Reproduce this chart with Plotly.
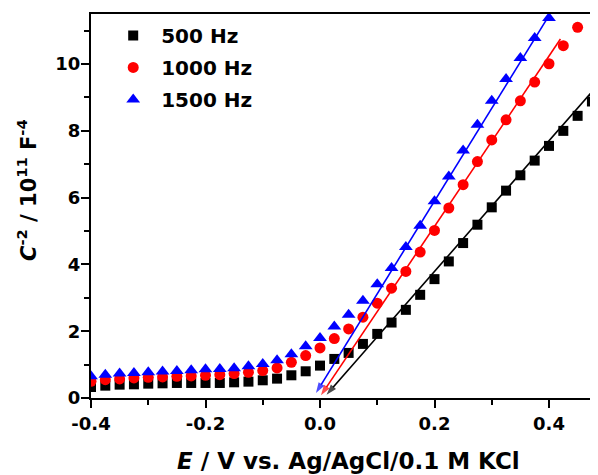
import plotly.graph_objects as go

# ---- data ----
x_black = [-0.4, -0.375, -0.35, -0.325, -0.3, -0.275, -0.25, -0.225, -0.2,
           -0.175, -0.15, -0.125, -0.1, -0.075, -0.05, -0.025, 0.0,
           0.025, 0.05, 0.075, 0.1, 0.125, 0.15, 0.175, 0.2, 0.225, 0.25,
           0.275, 0.3, 0.325, 0.35, 0.375, 0.4, 0.425, 0.45, 0.475]
y_black = [0.33, 0.37, 0.40, 0.41, 0.43, 0.44, 0.45, 0.45, 0.45,
           0.45, 0.47, 0.49, 0.53, 0.58, 0.68, 0.80, 0.97,
           1.17, 1.35, 1.62, 1.92, 2.26, 2.64, 3.09, 3.56, 4.09, 4.64,
           5.19, 5.71, 6.21, 6.67, 7.11, 7.55, 8.00, 8.45, 8.88]

x_red = [-0.4, -0.375, -0.35, -0.325, -0.3, -0.275, -0.25, -0.225, -0.2,
         -0.175, -0.15, -0.125, -0.1, -0.075, -0.05, -0.025, 0.0,
         0.025, 0.05, 0.075, 0.1, 0.125, 0.15, 0.175, 0.2, 0.225, 0.25,
         0.275, 0.3, 0.325, 0.35, 0.375, 0.4, 0.425, 0.45]
y_red = [0.50, 0.55, 0.57, 0.60, 0.62, 0.63, 0.65, 0.66, 0.68,
         0.70, 0.73, 0.77, 0.82, 0.90, 1.07, 1.27, 1.50,
         1.78, 2.07, 2.42, 2.84, 3.29, 3.79, 4.37, 5.02, 5.69, 6.39,
         7.08, 7.73, 8.33, 8.90, 9.46, 10.01, 10.55, 11.10]

x_blue = [-0.4, -0.375, -0.35, -0.325, -0.3, -0.275, -0.25, -0.225, -0.2,
          -0.175, -0.15, -0.125, -0.1, -0.075, -0.05, -0.025, 0.0,
          0.025, 0.05, 0.075, 0.1, 0.125, 0.15, 0.175, 0.2, 0.225, 0.25,
          0.275, 0.3, 0.325, 0.35, 0.375, 0.4]
y_blue = [0.65, 0.70, 0.73, 0.75, 0.77, 0.79, 0.81, 0.83, 0.86,
          0.87, 0.89, 0.95, 1.02, 1.13, 1.31, 1.55, 1.80,
          2.14, 2.49, 2.91, 3.41, 3.89, 4.52, 5.16, 5.89, 6.63, 7.41,
          8.18, 8.90, 9.55, 10.18, 10.78, 11.38]

# linear fit lines (upper end -> lower end, arrow tip at lower end)
fit_black_x = [0.4856, 0.0115]
fit_black_y = [9.38, 0.10]
fit_red_x = [0.42, 0.0017]
fit_red_y = [10.75, 0.08]
fit_blue_x = [0.401, -0.007]
fit_blue_y = [11.48, 0.15]

series_names = ["500 Hz", "1000 Hz", "1500 Hz"]
x_tickvals = [-0.4, -0.2, 0.0, 0.2, 0.4]
x_ticktext = ["-0.4", "-0.2", "0.0", "0.2", "0.4"]
y_tickvals = [0, 2, 4, 6, 8, 10]
y_ticktext = ["0", "2", "4", "6", "8", "10"]

FONT = "DejaVu Sans, Arial, sans-serif"

fig = go.Figure()
fig.add_trace(go.Scatter(x=x_black, y=y_black, mode="markers", name=series_names[0],
                         legendgroup="a",
                         marker=dict(symbol="square", size=10, color="black")))
fig.add_trace(go.Scatter(x=x_red, y=y_red, mode="markers", name=series_names[1],
                         legendgroup="b",
                         marker=dict(symbol="circle", size=11, color="red")))
fig.add_trace(go.Scatter(x=x_blue, y=y_blue, mode="markers", name=series_names[2],
                         legendgroup="c",
                         marker=dict(symbol="triangle-up", size=12, color="blue")))

for fx, fy, col in [(fit_black_x, fit_black_y, "black"),
                    (fit_red_x, fit_red_y, "red"),
                    (fit_blue_x, fit_blue_y, "blue")]:
    fig.add_trace(go.Scatter(x=fx, y=fy, mode="lines+markers", showlegend=False,
                             line=dict(color=col, width=1.6), hoverinfo="skip",
                             marker=dict(symbol=["circle", "arrow"], size=[0, 11],
                                         angleref="previous", color=col,
                                         line=dict(width=0))))

fig.update_xaxes(range=[-0.4, 0.4856], tickvals=x_tickvals, ticktext=x_ticktext,
                 showgrid=False, zeroline=False, showline=True, linecolor="black",
                 linewidth=2, mirror=True, ticks="outside", ticklen=8, tickwidth=2,
                 tickcolor="black",
                 tickfont=dict(family=FONT, size=18, color="black", weight="bold"),
                 minor=dict(tickvals=[-0.3, -0.1, 0.1, 0.3], ticks="outside",
                            ticklen=5, tickwidth=1.5, tickcolor="black"))
fig.update_yaxes(range=[0, 11.5], tickvals=y_tickvals, ticktext=y_ticktext,
                 showgrid=False, zeroline=False, showline=True, linecolor="black",
                 linewidth=2, mirror=False, ticks="outside", ticklen=8, tickwidth=2,
                 tickcolor="black", ticklabelstandoff=-3,
                 tickfont=dict(family=FONT, size=18, color="black", weight="bold"),
                 minor=dict(tickvals=[1, 3, 5, 7, 9, 11], ticks="outside",
                            ticklen=5, tickwidth=1.5, tickcolor="black"))

# axis titles (page offset of 8 px is compensated by figure size/margins)
fig.add_annotation(xref="paper", yref="paper", x=(348 - 91) / 507, y=(398 - 461) / 384,
                   text="<i>E</i> / V vs. Ag/AgCl/0.1 M KCl", showarrow=False,
                   xanchor="center", yanchor="middle",
                   font=dict(family=FONT, size=23, color="black", weight="bold"))
fig.add_annotation(xref="paper", yref="paper", x=(27 - 91) / 507, y=(398 - 190) / 384,
                   text="<i>C</i><sup>-2</sup> / 10<sup>11</sup> F<sup>-4</sup>",
                   textangle=-90, showarrow=False,
                   xanchor="center", yanchor="middle",
                   font=dict(family=FONT, size=21, color="black", weight="bold"))

fig.update_layout(
    width=590, height=467,
    margin=dict(l=83, r=0, t=6, b=77),
    paper_bgcolor="white", plot_bgcolor="white",
    showlegend=True,
    legend=dict(x=0.028, y=0.995, xanchor="left", yanchor="top",
                bgcolor="rgba(0,0,0,0)", tracegroupgap=3,
                font=dict(family=FONT, size=20, color="black", weight="bold"),
                itemwidth=46),
)

fig.write_html("out.html")
